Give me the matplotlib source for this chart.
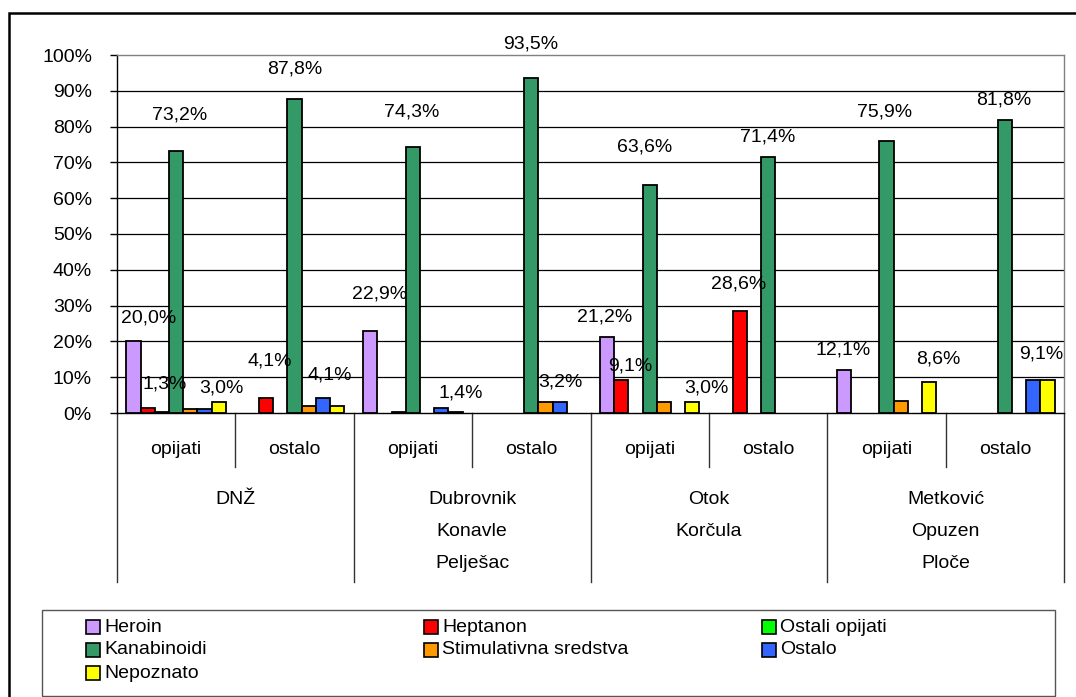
import numpy as np
import matplotlib
matplotlib.use("Agg")
import matplotlib.pyplot as plt
from matplotlib.patches import Rectangle
from matplotlib.lines import Line2D
from matplotlib.transforms import blended_transform_factory

plt.rcParams['font.family'] = ['Liberation Sans', 'DejaVu Sans']

# data
series = ['Heroin', 'Heptanon', 'Ostali opijati', 'Kanabinoidi',
          'Stimulativna sredstva', 'Ostalo', 'Nepoznato']
colors = ['#CC99FF', '#FF0000', '#00FF00', '#339966', '#FF9900', '#3366FF', '#FFFF00']
subgroups = ['opijati', 'ostalo'] * 4
groups = [['DNŽ'], ['Dubrovnik', 'Konavle', 'Pelješac'], ['Otok', 'Korčula'],
          ['Metković', 'Opuzen', 'Ploče']]

heroin = [20.0, 0, 22.9, 0, 21.2, 0, 12.1, 0]
heptanon = [1.3, 4.1, 0, 0, 9.1, 28.6, 0, 0]
ostali_opijati = [0.4, 0, 0.3, 0, 0, 0, 0, 0]
kanabinoidi = [73.2, 87.8, 74.3, 93.5, 63.6, 71.4, 75.9, 81.8]
stimulativna = [1.0, 2.0, 0, 3.2, 3.0, 0, 3.4, 0]
ostalo = [1.0, 4.1, 1.4, 3.2, 0, 0, 0, 9.1]
nepoznato = [3.0, 2.0, 0.3, 0, 3.0, 0, 8.6, 9.1]
values = [heroin, heptanon, ostali_opijati, kanabinoidi, stimulativna, ostalo, nepoznato]

yticks = [0, 10, 20, 30, 40, 50, 60, 70, 80, 90, 100]
ytick_labels = ['0%', '10%', '20%', '30%', '40%', '50%', '60%', '70%', '80%', '90%', '100%']

# which data labels are shown: (subgroup, series, dx px, dy px)
shown_labels = [
    (0, 0, 15, 15), (0, 1, 17, 16), (0, 3, 3, 27), (0, 6, 3, 6),
    (1, 1, 4, 29), (1, 3, 0, 21), (1, 5, 7, 15),
    (2, 0, 9, 29), (2, 3, -1, 27), (2, 5, 19, 6),
    (3, 3, -1, 26), (3, 5, 1, 11),
    (4, 0, -2, 12), (4, 1, 9, 6), (4, 3, -5, 30), (4, 6, 14, 6),
    (5, 1, -1, 18), (5, 3, 0, 12),
    (6, 0, -1, 11), (6, 3, -2, 21), (6, 6, 9, 15),
    (7, 3, -1, 12), (7, 5, 8, 18),
]

W, H = 1076, 697
fig = plt.figure(figsize=(W / 100, H / 100), dpi=100)


def fx(x):
    return x / W


def fy(y):
    return 1 - y / H


# outer border (right and bottom run off the picture)
fig.patches.append(Rectangle((fx(9), fy(H + 10)), 2, fy(13) - fy(H + 10),
                             transform=fig.transFigure, fill=False,
                             edgecolor='black', linewidth=1.8))

ax = fig.add_axes([fx(117), fy(413), fx(1064) - fx(117), fy(55) - fy(413)])

fs = 14
bw = 0.12
x0 = np.arange(8) + (1 - 7 * bw) / 2 + bw / 2
for k, name in enumerate(series):
    v = np.array(values[k], dtype=float)
    m = v > 0
    ax.bar(x0[m] + k * bw, v[m], width=bw, color=colors[k],
           edgecolor='black', linewidth=1.3, zorder=3)

for s, k, dx, dy in shown_labels:
    v = values[k][s]
    txt = f"{v:.1f}".replace('.', ',') + '%'
    ax.annotate(txt, (x0[s] + k * bw, v), xytext=(dx, dy),
                textcoords='offset pixels', ha='center', va='bottom',
                fontsize=fs, zorder=5)

ax.set_xlim(0, 8)
ax.set_ylim(0, 100)
ax.set_yticks(yticks)
ax.set_yticklabels(ytick_labels, fontsize=fs)
ax.set_xticks([])
ax.tick_params(axis='y', direction='out', length=5, width=1, pad=13)
for y in yticks[1:-1]:
    ax.axhline(y, color='black', linewidth=0.9, zorder=1)
ax.spines['left'].set_color('black')
ax.spines['bottom'].set_color('black')
ax.spines['top'].set_color('#808080')
ax.spines['right'].set_color('#808080')
for sp in ax.spines.values():
    sp.set_linewidth(1.0)

# category axis with two levels
tr = blended_transform_factory(ax.transData, fig.transFigure)
for i in range(9):
    y_end = 582 if i % 2 == 0 else 467
    ax.add_line(Line2D([i, i], [fy(413), fy(y_end)], transform=tr,
                       color='#333333', linewidth=1.0, clip_on=False))
for i, name in enumerate(subgroups):
    ax.text(i + 0.5, fy(450), name, transform=tr, ha='center', va='center',
            fontsize=fs)
for g, lines in enumerate(groups):
    for j, line in enumerate(lines):
        ax.text(2 * g + 1, fy(500 + 32 * j), line, transform=tr,
                ha='center', va='center', fontsize=fs)

# legend box
fig.patches.append(Rectangle((fx(42), fy(696)), fx(1055) - fx(42), fy(610) - fy(696),
                             transform=fig.transFigure, fill=False,
                             edgecolor='#555555', linewidth=1.0))
for k, name in enumerate(series):
    col, row = k % 3, k // 3
    lx = 86 + col * 338
    ly = 627 + row * 23
    fig.patches.append(Rectangle((fx(lx), fy(ly + 7)), fx(14), 14 / H,
                                 transform=fig.transFigure, facecolor=colors[k],
                                 edgecolor='black', linewidth=1.2))
    fig.text(fx(lx + 18), fy(ly), name, ha='left', va='center', fontsize=fs)

fig.savefig('out.png', dpi=100)
